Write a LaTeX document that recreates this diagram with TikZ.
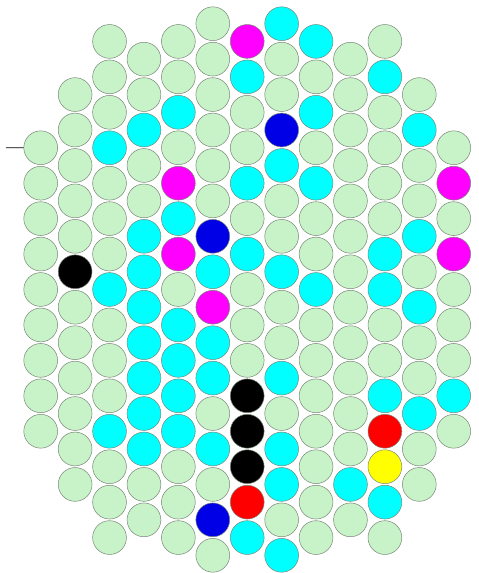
\documentclass[tikz,border=0pt]{standalone}
\usetikzlibrary{calc}
\definecolor{colg}{RGB}{200,242,200}
\definecolor{colc}{RGB}{0,255,255}
\definecolor{colm}{RGB}{255,0,255}
\definecolor{colb}{RGB}{0,0,230}
\definecolor{colk}{RGB}{0,0,0}
\definecolor{colr}{RGB}{255,0,0}
\definecolor{coly}{RGB}{255,255,0}
\definecolor{rimgray}{RGB}{120,135,120}
\tikzset{
  cell/.style={circle, draw=rimgray, line width=0.5pt, inner sep=0pt, minimum size=33.8pt},
  tickline/.style={draw=black, line width=0.8pt}
}
\begin{document}
\begin{tikzpicture}[x=1pt,y=-1pt]
\useasboundingbox (0,0) rectangle (479,573);
\foreach \k/\js/\cl in {
  0/7/{g,g,g,g,g,g,g,g,g},
  1/4/{g,g,g,g,g,k,g,g,g,g,g,g},
  2/1/{g,g,g,c,g,g,g,c,g,g,g,c,g,g,g},
  3/2/{g,g,c,g,g,c,c,c,c,c,c,c,g,g},
  4/1/{g,g,c,g,m,c,m,g,c,c,c,c,g,g,g},
  5/0/{g,g,g,g,g,g,b,c,m,c,c,g,c,g,b,g},
  6/1/{m,c,g,g,c,g,c,g,g,g,k,k,k,r,c},
  7/0/{c,g,g,b,c,g,g,c,g,g,c,g,c,c,g,c},
  8/1/{c,g,c,g,c,g,g,c,g,g,g,g,g,g,g},
  9/2/{g,g,g,g,g,g,g,g,g,g,g,g,c,g},
  10/1/{g,c,g,g,g,g,c,c,g,g,c,r,y,c,g},
  11/4/{g,c,g,g,c,g,c,g,g,c,g,g},
  12/7/{g,m,g,m,g,g,g,c,g}}{
  \foreach \c [count=\i from 0] in \cl {
    \pgfmathtruncatemacro{\j}{\js+2*\i}
    \node[cell, fill=col\c] (c\k-\j) at ({40.7+34.42*\k},{23.7+17.72*\j}) {};
  }
}
\coordinate (tick) at (6,147.7);
\draw[tickline] (tick) -- (c0-7.west);
\end{tikzpicture}
\end{document}
